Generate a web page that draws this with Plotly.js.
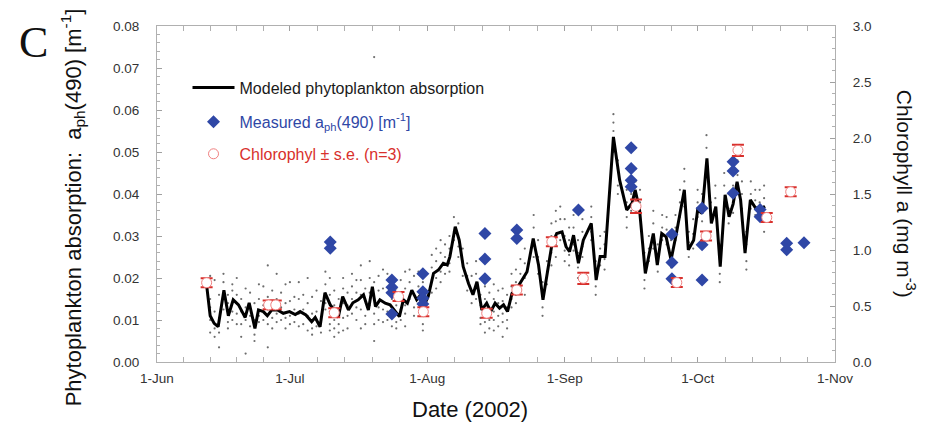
<!DOCTYPE html>
<html>
<head>
<meta charset="utf-8">
<script src="https://cdn.plot.ly/plotly-3.0.1.min.js"></script>
<style>html,body{margin:0;padding:0;background:#fff;}#chart{width:925px;height:426px;}</style>
</head>
<body>
<div id="chart"></div>
<script>
// Days are counted from 1 June 2002 (day 0).
const modelDay = [11.2,12.0,12.9,13.8,15.1,16.1,17.2,18.4,19.9,20.8,22.1,22.9,24.0,24.9,25.9,27.2,28.5,29.9,31.2,32.3,33.6,34.9,35.7,36.8,37.9,39.1,40.0,40.9,41.9,43.2,44.2,45.4,46.6,47.7,48.6,49.3,50.3,51.5,52.6,53.7,54.7,55.6,56.5,57.5,58.6,59.5,60.5,61.2,62.4,63.5,64.6,65.5,66.1,67.3,68.2,69.1,70.3,71.3,72.2,73.3,74.4,75.3,76.3,77.3,78.2,79.1,80.1,81.2,82.3,83.5,84.9,86.1,87.1,88.0,89.1,90.2,91.4,92.3,93.1,94.0,95.1,96.2,98.0,99.1,100.0,101.1,103.0,104.4,106.0,107.2,107.9,108.9,110.2,111.1,112.0,112.9,113.9,114.9,116.0,117.2,118.1,119.0,119.9,121.1,122.0,123.0,124.1,125.1,126.1,127.1,128.2,129.1,130.0,130.9,131.7,132.7,133.9,135.0,136.1,137.2];
const modelAph = [0.0183,0.0110,0.0092,0.0084,0.0171,0.0110,0.0148,0.0136,0.0106,0.0141,0.0080,0.0124,0.0120,0.0110,0.0124,0.0124,0.0116,0.0120,0.0113,0.0120,0.0112,0.0096,0.0106,0.0084,0.0165,0.0136,0.0124,0.0106,0.0156,0.0124,0.0141,0.0148,0.0160,0.0124,0.0179,0.0132,0.0148,0.0140,0.0136,0.0120,0.0108,0.0148,0.0140,0.0171,0.0148,0.0160,0.0140,0.0156,0.0211,0.0219,0.0235,0.0231,0.0251,0.0322,0.0290,0.0227,0.0187,0.0160,0.0191,0.0124,0.0140,0.0120,0.0140,0.0128,0.0136,0.0120,0.0163,0.0175,0.0195,0.0215,0.0294,0.0231,0.0148,0.0203,0.0279,0.0306,0.0310,0.0275,0.0263,0.0302,0.0235,0.0290,0.0330,0.0195,0.0251,0.0251,0.0536,0.0433,0.0362,0.0378,0.0410,0.0362,0.0211,0.0259,0.0306,0.0231,0.0306,0.0298,0.0243,0.0306,0.0362,0.0410,0.0267,0.0290,0.0362,0.0354,0.0485,0.0330,0.0370,0.0227,0.0398,0.0346,0.0376,0.0429,0.0386,0.0259,0.0386,0.0368,0.0363,0.0371];

const measDay = [39.1,39.1,53.0,53.0,53.0,53.0,60.0,60.0,60.0,60.0,74.0,74.0,74.0,81.2,81.2,95.1,107.0,107.0,107.0,107.0,116.2,116.2,116.2,123.0,123.0,123.0,130.0,130.0,130.0,136.1,136.1,142.1,142.1,146.0];
const measAph = [0.0286,0.0271,0.0195,0.0178,0.0165,0.0114,0.0210,0.0167,0.0152,0.0138,0.0306,0.0245,0.0198,0.0314,0.0294,0.0362,0.0510,0.0461,0.0433,0.0417,0.0304,0.0237,0.0198,0.0366,0.0279,0.0195,0.0477,0.0455,0.0402,0.0363,0.0346,0.0283,0.0267,0.0284];

const chlDay = [11.2,25.2,26.8,40.0,54.5,60.1,74.4,81.2,89.1,96.2,108.1,117.3,123.9,131.1,137.6,143.0];
const chlVal = [0.708,0.51,0.51,0.44,0.584,0.449,0.435,0.643,1.074,0.747,1.39,0.709,1.125,1.89,1.29,1.52];
const chlSe  = [0.04,0.04,0.04,0.04,0.04,0.04,0.04,0.04,0.04,0.05,0.06,0.04,0.04,0.05,0.04,0.04];

const dotDays = [12,13,14,15,16,17,18,19,20,21,22,23,24,25,26,27,28,29,30,31,32,33,34,35,36,37,38,39,40,41,42,43,44,45,46,47,48,49,50,51,52,53,54,55,56,57,58,59,60,62,63,64,65,66,67,68,69,70,71,72,73,74,75,76,77,78,79,80,81,82,83,85,86,87,88,89,90,91,92,93,94,95,96,98,99,100,101,103,104,106,107,108,109,110,111,112,113,114,115,116,117,118,119,120,121,122,123,124,125,126,127,128,129,130,131,132,133,134,135,136,137];
const dotVals = [
[0.0205,0.0150,0.0130,0.0100,0.0070],[0.0195,0.0120,0.0060,0.0080],[0.0160,0.0105,0.0070,0.0035],[0.0210,0.0190,0.0150,0.0125],[0.0160,0.0140,0.0095,0.0080],
[0.0185,0.0170,0.0120,0.0100],[0.0200,0.0160,0.0115,0.0090],[0.0150,0.0120,0.0090,0.0060],[0.0175,0.0130,0.0100,0.0020],[0.0165,0.0110,0.0085],
[0.0140,0.0100,0.0065,0.0050],[0.0185,0.0150,0.0110,0.0095],[0.0180,0.0135,0.0100],[0.0230,0.0155,0.0125,0.0090,0.0035],[0.0170,0.0140,0.0105,0.0080],
[0.0210,0.0150,0.0115,0.0095],[0.0165,0.0130,0.0100],[0.0185,0.0140,0.0105,0.0080],[0.0190,0.0145,0.0110,0.0090],[0.0155,0.0125,0.0095],
[0.0190,0.0150,0.0115,0.0085],[0.0160,0.0125,0.0090],[0.0200,0.0140,0.0110,0.0075],[0.0155,0.0115,0.0080,0.0065],[0.0170,0.0120,0.0085],
[0.0145,0.0105,0.0070],[0.0215,0.0185,0.0155,0.0140,0.0125],[0.0200,0.0160,0.0120,0.0090,0.0075],[0.0170,0.0135,0.0100,0.0080,0.0060],[0.0150,0.0120,0.0090,0.0070],
[0.0200,0.0175,0.0140,0.0105,0.0075],[0.0165,0.0135,0.0110,0.0080],[0.0210,0.0180,0.0150,0.0115],[0.0195,0.0165,0.0130,0.0100],[0.0230,0.0195,0.0160,0.0125,0.0080],
[0.0175,0.0145,0.0110,0.0090],[0.0240,0.0200,0.0165,0.0135],[0.0190,0.0150,0.0115,0.0090,0.0050,0.0726],[0.0205,0.0170,0.0130,0.0100],[0.0220,0.0175,0.0125,0.0095],
[0.0210,0.0165,0.0120,0.0100],[0.0185,0.0150,0.0110,0.0085],[0.0175,0.0135,0.0095,0.0080],[0.0195,0.0160,0.0125,0.0100],[0.0215,0.0175,0.0135,0.0115,0.0085],
[0.0220,0.0190,0.0150],[0.0205,0.0160,0.0130,0.0110],[0.0215,0.0180,0.0140],[0.0190,0.0155,0.0115,0.0090,0.0075],[0.0255,0.0225,0.0195,0.0165],
[0.0270,0.0240,0.0200,0.0175],[0.0290,0.0260,0.0215,0.0190],[0.0280,0.0250,0.0210],[0.0300,0.0270,0.0235,0.0215],[0.0345,0.0310,0.0290],
[0.0330,0.0275,0.0250],[0.0270,0.0240,0.0205],[0.0235,0.0205,0.0170],[0.0205,0.0170,0.0140],[0.0240,0.0210,0.0175,0.0150],
[0.0160,0.0135,0.0105,0.0090],[0.0180,0.0150,0.0120,0.0095,0.0070],[0.0165,0.0130,0.0100,0.0080],[0.0185,0.0150,0.0120,0.0100,0.0075],[0.0170,0.0140,0.0110,0.0085],
[0.0175,0.0145,0.0115,0.0095,0.0060],[0.0160,0.0130,0.0100,0.0080],[0.0210,0.0180,0.0150,0.0130],[0.0220,0.0190,0.0160,0.0140],[0.0245,0.0210,0.0180],
[0.0270,0.0235,0.0200,0.0160],[0.0350,0.0320,0.0280,0.0250],[0.0290,0.0250,0.0210],[0.0190,0.0160,0.0130,0.0110],[0.0240,0.0215,0.0185],
[0.0330,0.0300,0.0260,0.0230],[0.0360,0.0335,0.0300,0.0280,0.0250],[0.0370,0.0340,0.0310,0.0290],[0.0340,0.0300,0.0265,0.0240],[0.0320,0.0290,0.0255,0.0230],
[0.0350,0.0320,0.0280,0.0265],[0.0290,0.0260,0.0225,0.0200],[0.0340,0.0310,0.0275,0.0250],[0.0370,0.0345,0.0310,0.0290],[0.0240,0.0210,0.0180,0.0160],
[0.0300,0.0270,0.0230],[0.0310,0.0280,0.0245,0.0220],[0.0590,0.0570,0.0550,0.0520,0.0500],[0.0480,0.0460,0.0420,0.0400],[0.0410,0.0380,0.0345,0.0320],
[0.0430,0.0400,0.0360],[0.0460,0.0430,0.0395,0.0370],[0.0410,0.0380,0.0345],[0.0260,0.0230,0.0195,0.0175],[0.0300,0.0270,0.0240],
[0.0360,0.0330,0.0290,0.0270],[0.0280,0.0250,0.0215],[0.0350,0.0320,0.0290],[0.0345,0.0315,0.0280],[0.0290,0.0260,0.0225,0.0200],
[0.0350,0.0320,0.0290],[0.0410,0.0380,0.0345],[0.0460,0.0430,0.0390,0.0370],[0.0310,0.0285,0.0250],[0.0340,0.0305,0.0270],
[0.0410,0.0380,0.0345],[0.0400,0.0370,0.0335],[0.0540,0.0510,0.0470,0.0440],[0.0380,0.0350,0.0310],[0.0420,0.0390,0.0350],
[0.0280,0.0245,0.0210,0.0190],[0.0450,0.0420,0.0380],[0.0400,0.0365,0.0330],[0.0420,0.0390,0.0355],[0.0480,0.0445,0.0410],
[0.0430,0.0400,0.0365],[0.0310,0.0280,0.0240,0.0220],[0.0430,0.0400,0.0365],[0.0410,0.0385,0.0350],[0.0410,0.0380,0.0345],
[0.0420,0.0390,0.0345,0.0310]
];

const monthTicks = ['2002-06-01','2002-07-01','2002-08-01','2002-09-01','2002-10-01','2002-11-01'];

// ---- helpers (unit conversion only) ----
const BASE = Date.UTC(2002, 5, 1);
function dayToDate(d) {
  return new Date(BASE + d * 86400000).toISOString().replace('T', ' ').slice(0, 19);
}
const dotX = [], dotY = [];
dotDays.forEach((d, i) => dotVals[i].forEach(v => { dotX.push(dayToDate(d)); dotY.push(v); }));

// minor x ticks: each month split in five
const minorX = [];
for (let m = 0; m < monthTicks.length - 1; m++) {
  const a = Date.parse(monthTicks[m] + 'T00:00:00Z'), b = Date.parse(monthTicks[m + 1] + 'T00:00:00Z');
  for (let k = 1; k < 5; k++) minorX.push(new Date(a + (b - a) * k / 5).toISOString().replace('T', ' ').slice(0, 19));
}

const FONT = 'Liberation Sans, Arial, Helvetica, sans-serif';
const BLUE = '#2f47a6', RED = '#d8302c';

const traces = [
  { x: dotX, y: dotY, type: 'scatter', mode: 'markers', showlegend: false, hoverinfo: 'skip',
    marker: { size: 2.2, color: '#6d6d6d' } },
  { x: modelDay.map(dayToDate), y: modelAph, type: 'scatter', mode: 'lines',
    name: 'Modeled phytoplankton absorption', legend: 'legend',
    line: { color: '#000', width: 3 } },
  { x: chlDay.map(dayToDate), y: chlVal, yaxis: 'y2', type: 'scatter', mode: 'markers',
    name: 'Chlorophyl ± s.e. (n=3)', legend: 'legend3',
    error_y: { type: 'data', array: chlSe, visible: true, color: RED, thickness: 2, width: 6 },
    marker: { symbol: 'circle', size: 10, color: '#fff', line: { color: '#f08080', width: 1 } } },
  { x: measDay.map(dayToDate), y: measAph, type: 'scatter', mode: 'markers',
    name: 'Measured a<sub>ph</sub>(490) [m<sup>-1</sup>]', legend: 'legend2',
    marker: { symbol: 'diamond', size: 10, color: BLUE } }
];

const axisCommon = {
  showline: true, linecolor: '#b0b0b0', linewidth: 1,
  ticks: 'inside', ticklen: 5, tickcolor: '#a0a0a0', tickwidth: 1,
  showgrid: false, zeroline: false,
  tickfont: { family: FONT, size: 13.5, color: '#333' }
};

const legendCommon = { bgcolor: 'rgba(0,0,0,0)', borderwidth: 0, xanchor: 'left', yanchor: 'top', itemwidth: 42, tracegroupgap: 0 };

const layout = {
  width: 925, height: 426,
  margin: { l: 157, r: 90, t: 26, b: 64 },
  paper_bgcolor: '#fff', plot_bgcolor: '#fff',
  font: { family: FONT, size: 13, color: '#222' },
  xaxis: Object.assign({}, axisCommon, {
    type: 'date', range: ['2002-06-01', '2002-11-01'],
    tickmode: 'array', tickvals: monthTicks, tickformat: '%-d-%b',
    mirror: 'allticks', ticklabelstandoff: 4,
    minor: { tickmode: 'array', tickvals: minorX, ticks: 'inside', ticklen: 3, tickcolor: '#b0b0b0' }
  }),
  yaxis: Object.assign({}, axisCommon, {
    range: [0, 0.08], tickmode: 'linear', tick0: 0, dtick: 0.01, tickformat: '.2f',
    ticklabelstandoff: 14,
    minor: { dtick: 0.002, ticks: 'inside', ticklen: 3, tickcolor: '#b0b0b0' }
  }),
  yaxis2: Object.assign({}, axisCommon, {
    overlaying: 'y', side: 'right', range: [0, 3], tickmode: 'linear', tick0: 0, dtick: 0.5, tickformat: '.1f',
    ticklabelstandoff: 14,
    minor: { dtick: 0.1, ticks: 'inside', ticklen: 3, tickcolor: '#b0b0b0' }
  }),
  legend: Object.assign({}, legendCommon, { x: 0.045, y: 0.867, font: { family: FONT, size: 16, color: '#1a1a1a' } }),
  legend2: Object.assign({}, legendCommon, { x: 0.045, y: 0.765, font: { family: FONT, size: 16, color: BLUE } }),
  legend3: Object.assign({}, legendCommon, { x: 0.045, y: 0.67, font: { family: FONT, size: 16, color: RED } }),
  annotations: [
    { text: 'C', xref: 'paper', yref: 'paper', x: -0.182, y: 0.95, xanchor: 'center', yanchor: 'middle', showarrow: false,
      font: { family: 'Liberation Serif, Times New Roman, serif', size: 44, color: '#111' } },
    { text: 'Phytoplankton absorption:  a<sub>ph</sub>(490) [m<sup>-1</sup>]', xref: 'paper', yref: 'paper',
      x: -0.124, y: 0.46, xanchor: 'center', yanchor: 'middle', textangle: -90, showarrow: false,
      font: { family: FONT, size: 22, color: '#111' } },
    { text: 'Chlorophyll a (mg m<sup>-3</sup>)', xref: 'paper', yref: 'paper',
      x: 1.105, y: 0.5, xanchor: 'center', yanchor: 'middle', textangle: 90, showarrow: false,
      font: { family: FONT, size: 21, color: '#111' } },
    { text: 'Date (2002)', xref: 'paper', yref: 'paper', x: 0.4617, y: -0.14, xanchor: 'center', yanchor: 'middle', showarrow: false,
      font: { family: FONT, size: 22, color: '#111' } }
  ]
};

Plotly.newPlot('chart', traces, layout, { staticPlot: true, displayModeBar: false });
</script>
</body>
</html>
